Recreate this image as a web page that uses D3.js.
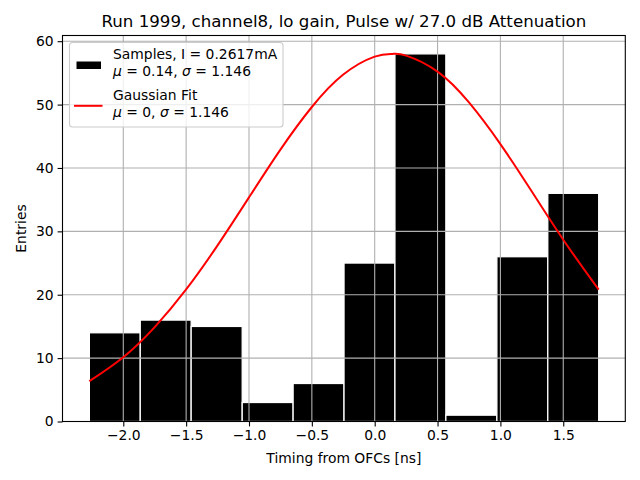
<!DOCTYPE html>
<html>
<head>
<meta charset="utf-8">
<script src="https://cdn.jsdelivr.net/npm/d3@7"></script>
<style>
  body { margin: 0; background: #fff; }
  text { font-family: "DejaVu Sans", sans-serif; }
</style>
</head>
<body>
<div id="chart"></div>
<script>
// histogram of timing, 10 bins
let binEdges = [-2.270, -1.865, -1.460, -1.054, -0.649, -0.244, 0.161, 0.566, 0.972, 1.377, 1.782];
let counts = [14, 16, 15, 3, 6, 25, 58, 1, 26, 36];
// gaussian fit, values
let fitX = [-2.27, -2.0, -1.75, -1.5, -1.25, -1.0, -0.75, -0.5, -0.25, 0.0, 0.14, 0.25, 0.5, 0.75, 1.0, 1.25, 1.5, 1.782];
let fitY = [6.36, 10.14, 14.89, 20.83, 27.79, 35.36, 42.90, 49.62, 54.74, 57.57, 58.0, 57.73, 55.21, 50.34, 43.77, 36.28, 28.68, 20.8];
let xTicks = [-2.0, -1.5, -1.0, -0.5, 0.0, 0.5, 1.0, 1.5];
let yTicks = [0, 10, 20, 30, 40, 50, 60];
let titleText = 'Run 1999, channel8, lo gain, Pulse w/ 27.0 dB Attenuation';
let legendLines = [
  ['Samples, I = 0.2617mA', 'μ|0.14|σ|1.146'],
  ['Gaussian Fit', 'μ|0|σ|1.146']
];

let svgAttr = {width: 640, height: 480};
let marge = {top: 35.5, bottom: 58.5, left: 62.5, right: 14.7};
let w = svgAttr.width - marge.left - marge.right;
let h = svgAttr.height - marge.top - marge.bottom;
let fs = '13.89px';

let svg = d3.select('#chart').append('svg').attr('width', svgAttr.width).attr('height', svgAttr.height);
let g = svg.append('g').attr('transform', 'translate(' + marge.left + ',' + marge.top + ')');

let xScale = d3.scaleLinear().domain([-2.4836, 1.9936]).range([0, w]);
let yScale = d3.scaleLinear().domain([0, 60.9]).range([h, 0]);

// bars
g.selectAll('.bar').data(counts).enter().append('rect')
  .attr('x', (d, i) => xScale(binEdges[i]))
  .attr('y', d => yScale(d))
  .attr('width', (d, i) => xScale(binEdges[i + 1]) - xScale(binEdges[i]))
  .attr('height', d => yScale(0) - yScale(d))
  .attr('fill', '#000').attr('stroke', '#fff').attr('stroke-width', 1.3);

// grid on top of bars
let grid = g.append('g');
grid.selectAll('.gx').data(xTicks).enter().append('line')
  .attr('x1', d => xScale(d)).attr('x2', d => xScale(d)).attr('y1', 0).attr('y2', h)
  .attr('stroke', '#b0b0b0').attr('stroke-width', 1.1);
grid.selectAll('.gy').data(yTicks).enter().append('line')
  .attr('y1', d => yScale(d)).attr('y2', d => yScale(d)).attr('x1', 0).attr('x2', w)
  .attr('stroke', '#b0b0b0').attr('stroke-width', 1.1);

// fit curve
let line = d3.line().x(d => xScale(d[0])).y(d => yScale(d[1])).curve(d3.curveNatural);
g.append('path').datum(fitX.map((x, i) => [x, fitY[i]]))
  .attr('d', line).attr('fill', 'none').attr('stroke', '#ff0000').attr('stroke-width', 2);

// axes
let xAxis = d3.axisBottom(xScale).tickValues(xTicks).tickSize(4.9).tickPadding(4)
  .tickFormat(d => d3.format('.1f')(d).replace('-', '\u2212'));
let yAxis = d3.axisLeft(yScale).tickValues(yTicks).tickSize(4.9).tickPadding(4).tickFormat(d3.format('d'));
let gx = g.append('g').attr('transform', 'translate(0,' + h + ')').call(xAxis);
let gy = g.append('g').call(yAxis);
[gx, gy].forEach(a => {
  a.select('.domain').remove();
  a.selectAll('line').attr('stroke', '#000').attr('stroke-width', 1.1);
  a.selectAll('text').attr('font-size', fs).attr('fill', '#000').style('font-family', '"DejaVu Sans", sans-serif');
});
g.append('rect').attr('width', w).attr('height', h).attr('fill', 'none').attr('stroke', '#000').attr('stroke-width', 1.1);

// labels
svg.append('text').attr('x', marge.left + w / 2).attr('y', 27).attr('text-anchor', 'middle')
  .attr('font-size', '16.67px').text(titleText);
svg.append('text').attr('x', marge.left + w / 2).attr('y', 463).attr('text-anchor', 'middle')
  .attr('font-size', fs).text('Timing from OFCs [ns]');
svg.append('text').attr('transform', 'translate(26,' + (marge.top + h / 2) + ') rotate(-90)')
  .attr('text-anchor', 'middle').attr('font-size', fs).text('Entries');

// legend
let legend = svg.append('g').attr('transform', 'translate(69.5,42.5)');
legend.append('rect').attr('width', 213.5).attr('height', 84.5).attr('rx', 3)
  .attr('fill', 'rgba(255,255,255,0.8)').attr('stroke', '#cccccc').attr('stroke-width', 1.1);
legend.append('rect').attr('x', 6.5).attr('y', 18.5).attr('width', 25.5).attr('height', 8.5)
  .attr('fill', '#000').attr('stroke', '#fff').attr('stroke-width', 1);
legend.append('line').attr('x1', 4.5).attr('x2', 33).attr('y1', 63.3).attr('y2', 63.3)
  .attr('stroke', '#ff0000').attr('stroke-width', 2);
legendLines.forEach((lines, i) => {
  let y0 = 16 + i * 41.5;
  legend.append('text').attr('x', 43.5).attr('y', y0).attr('font-size', fs).text(lines[0]);
  let p = lines[1].split('|');
  let t = legend.append('text').attr('x', 43.5).attr('y', y0 + 17.3).attr('font-size', fs);
  t.append('tspan').attr('font-style', 'italic').text(p[0]);
  t.append('tspan').text(' = ' + p[1] + ', ');
  t.append('tspan').attr('font-style', 'italic').text(p[2]);
  t.append('tspan').text(' = ' + p[3]);
});
</script>
</body>
</html>
